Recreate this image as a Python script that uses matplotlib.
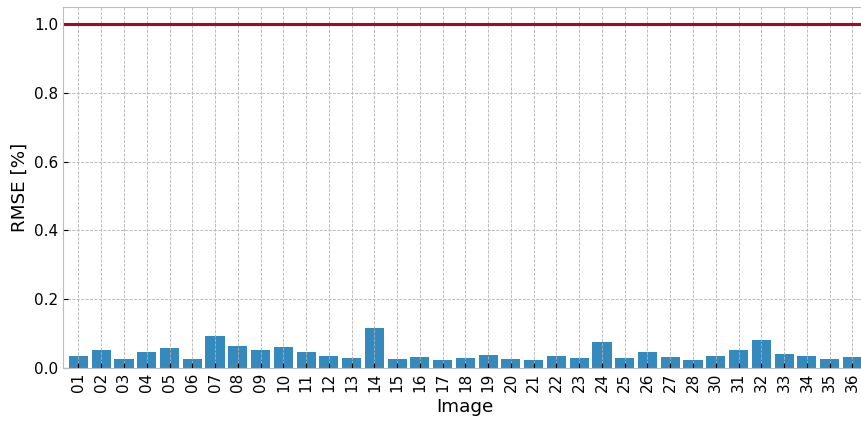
import matplotlib
matplotlib.use("Agg")
import matplotlib.pyplot as plt
import numpy as np

# RMSE per image (percent)
images = ["01", "02", "03", "04", "05", "06", "07", "08", "09", "10",
          "11", "12", "13", "14", "15", "16", "17", "18", "19", "20",
          "21", "22", "23", "24", "25", "26", "27", "28", "30", "31",
          "32", "33", "34", "35", "36"]
rmse = [0.034, 0.052, 0.026, 0.046, 0.058, 0.026, 0.092, 0.064, 0.052, 0.061,
        0.046, 0.034, 0.029, 0.116, 0.026, 0.032, 0.023, 0.029, 0.038, 0.026,
        0.023, 0.034, 0.029, 0.075, 0.029, 0.046, 0.032, 0.023, 0.034, 0.052,
        0.081, 0.040, 0.034, 0.026, 0.032]
threshold = 1.0

plt.style.use("bmh")
plt.rcParams["axes.facecolor"] = "white"
plt.rcParams["font.size"] = 11
plt.rcParams["grid.linewidth"] = 0.6

fig = plt.figure(figsize=(8.62, 4.23), dpi=100)
ax = fig.add_axes([63 / 862, 55 / 423, 803 / 862, 361.3 / 423])

x = np.arange(len(images))
ax.bar(x, rmse, width=0.84, color="#348ABD")
ax.axhline(threshold, color="#A60628", lw=2.2)

ax.set_xticks(x)
ax.set_xticklabels(images, rotation=90)
ax.set_xlim(-0.68, 34.6)
ax.set_ylim(0, 1.05)
ax.set_yticks([0.0, 0.2, 0.4, 0.6, 0.8, 1.0])
ax.set_xlabel("Image")
ax.set_ylabel("RMSE [%]")

fig.savefig("out.png", dpi=100)
